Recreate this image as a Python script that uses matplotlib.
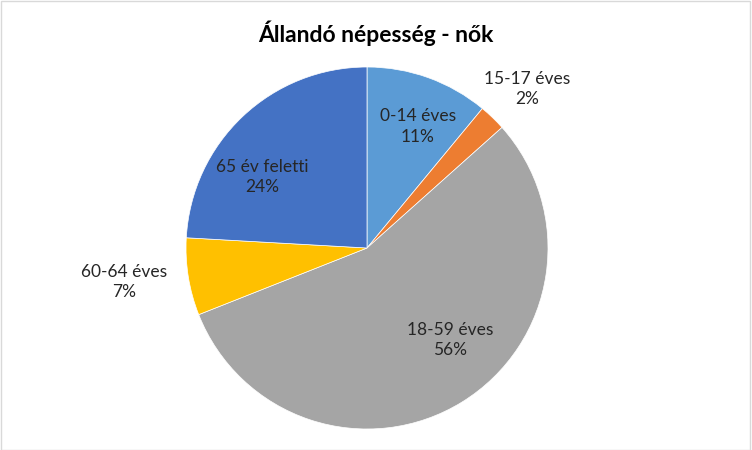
import matplotlib.pyplot as plt
from matplotlib.patches import Rectangle

# Adatok
kategoriak = ["0-14 éves", "15-17 éves", "18-59 éves", "60-64 éves", "65 év feletti"]
ertekek = [11.0, 2.4, 55.6, 6.9, 24.1]
szazalek = ["11%", "2%", "56%", "7%", "24%"]
szinek = ["#5B9BD5", "#ED7D31", "#A5A5A5", "#FFC000", "#4472C4"]

# címkék helye (adat koordinátákban, r=1 kör)
cimke_x = [0.28, 0.884, 0.459, -1.343, -0.58]
cimke_y = [0.67, 0.878, -0.508, -0.188, 0.392]

plt.rcParams['font.family'] = ['Lato', 'DejaVu Sans']

fig = plt.figure(figsize=(7.52, 4.5), dpi=100)
fig.patches.append(Rectangle((0.001, 0.001), 0.997, 0.996, transform=fig.transFigure,
                             fill=False, edgecolor="#D9D9D9", linewidth=1))

ax = fig.add_axes([186 / 752, 21 / 450, 362 / 752, 362 / 450])
ax.pie(ertekek, colors=szinek, startangle=90, counterclock=False, radius=1,
       wedgeprops=dict(edgecolor="white", linewidth=0.5))
ax.set_xlim(-1, 1)
ax.set_ylim(-1, 1)
ax.set_aspect('equal')
ax.axis('off')

for i in range(len(kategoriak)):
    ax.text(cimke_x[i], cimke_y[i], kategoriak[i] + "\n" + szazalek[i], ha='center', va='center',
            fontsize=12.5, color="#262626", linespacing=1.35, clip_on=False)

fig.text(376 / 752, 1 - 33 / 450, "Állandó népesség - nők", ha='center', va='center',
         fontsize=16.5, fontweight='bold', color="black")

fig.savefig("out.png", dpi=100)
